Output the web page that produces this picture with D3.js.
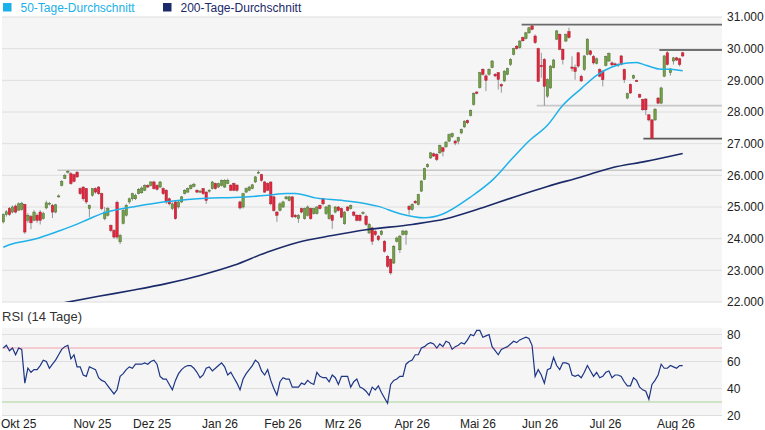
<!DOCTYPE html>
<html>
<head>
<meta charset="utf-8">
<script src="https://cdn.jsdelivr.net/npm/d3@7"></script>
<style>
  body { margin: 0; background: #fff; }
  text { font-family: "Liberation Sans", Arial, sans-serif; }
</style>
</head>
<body>
<div id="chart"></div>
<script>
// daily candles, Okt 25 - Aug 26
const opens = [
  24530,24760,24950,24840,25030,24900,24920,25080,24580,24700,
  24580,24740,24840,24630,24970,25100,25050,24840,25330,25680,
  25900,26120,26050,26020,26100,25580,25630,25580,24950,25370,
  25580,25630,25420,24630,24740,24420,24260,25150,23900,24480,
  24740,25160,25260,25260,25420,25450,25530,25680,25680,25790,
  25680,25630,25580,25530,25260,24950,25160,25000,25160,25420,
  25470,25580,25650,25530,25470,25580,25470,25500,25580,25740,
  25630,25680,25630,25740,25690,25740,25690,25160,25000,25470,
  25530,25580,25790,26080,26020,25790,25740,25790,25320,24840,
  24890,25000,25260,25210,25320,24740,24630,24950,24630,24740,
  24950,24790,24790,25050,25260,24790,24630,24740,24840,25000,
  24950,24470,25000,24950,24840,24740,24740,24810,24710,24180,
  24340,24230,24080,24130,23920,23440,23340,23230,23920,23650,
  24130,24130,25020,24920,25180,25080,25500,25870,26270,26550,
  26680,26660,26710,26870,26900,27080,27220,27080,27080,27340,
  27530,27730,27890,28240,28630,28770,29350,29140,29190,29400,
  29190,29240,28870,28980,29190,29500,29820,30080,30030,30350,
  30320,30500,30720,30400,30000,29470,29660,28500,28760,29400,
  30300,30450,29980,30240,30540,29420,29400,29870,29130,29340,
  29820,29930,29750,29540,29340,29290,29470,29610,29550,29520,
  29480,29770,29340,28440,28870,29070,28990,28550,28390,28410,
  27910,27750,27750,28440,28280,29130,29870,29240,29610,29710,
  29680,29870
];
const highs = [
  24800,24900,25000,25050,25080,25150,25160,25100,24800,24750,
  24900,24800,24900,24850,25200,25160,25100,25100,25400,25850,
  26050,26160,26100,26050,26130,25620,25650,25600,25080,25600,
  25620,25660,25450,25000,25000,24450,24300,25200,24150,24950,
  25100,25300,25450,25420,25600,25650,25720,25720,25820,25830,
  25720,25820,25620,25560,25300,25150,25200,25200,25350,25560,
  25620,25720,25760,25560,25540,25600,25500,25560,25820,25770,
  25770,25870,25880,25900,25720,25770,25720,25200,25450,25620,
  25670,25730,25980,26160,26050,25820,25780,25800,25350,24870,
  25150,25200,25350,25350,25340,24780,24780,24980,24980,25050,
  24980,24980,25030,25080,25290,25030,25080,24770,25030,25030,
  24980,24870,25030,25080,24870,24770,24770,24870,24760,24500,
  24380,24280,24120,24280,23950,23480,23380,23800,24060,24120,
  24280,24280,25060,25120,25220,25420,25850,26240,26380,26740,
  26720,26700,26970,26900,27080,27320,27350,27120,27220,27480,
  27740,27760,28080,28620,28660,29270,29380,29190,29380,29640,
  29230,29260,28900,29320,29400,29700,30030,30110,30270,30380,
  30530,30690,30770,30450,30030,29870,29700,29060,29480,29680,
  30590,30480,30010,30480,30660,29760,29500,29900,29180,29800,
  30330,29960,29800,29720,29380,29320,29780,29880,29600,29560,
  29540,29800,29370,28610,28900,29180,29020,28580,28420,28440,
  27940,27780,28120,28470,28800,29800,29960,29390,29740,29740,
  29710,29900
];
const lows = [
  24480,24700,24720,24800,24800,24880,24880,24150,24500,24300,
  24550,24500,24450,24600,24930,25050,24650,24800,25300,25650,
  25880,26050,25700,25780,25920,25380,25200,25100,24680,25330,
  25420,25380,24900,24580,24700,24200,24000,23980,23830,24450,
  24700,25100,25200,25220,25400,25420,25500,25600,25650,25550,
  25520,25600,25380,25100,25050,24900,24600,24950,25120,25400,
  25450,25550,25620,25440,25440,25380,25100,25450,25550,25550,
  25600,25650,25600,25720,25500,25500,25480,24920,24950,25450,
  25500,25560,25760,26050,25800,25450,25500,25050,24850,24530,
  24860,24970,25230,25180,24650,24650,24500,24800,24600,24700,
  24600,24760,24760,24920,25050,24750,24600,24310,24800,24860,
  24650,24440,24860,24920,24700,24550,24540,24760,24400,24150,
  23800,24080,23920,24100,23560,23080,22860,23200,23880,23550,
  24100,23810,24760,24880,25100,25050,25480,25850,26240,26520,
  26580,26450,26680,26600,26870,27050,27180,26950,26980,27300,
  27500,27620,27860,28200,28560,28740,29150,28660,29150,29380,
  29100,28710,28610,28950,29160,29450,29790,29970,30000,30220,
  30290,30470,30580,30150,28950,29080,28200,28450,28730,29380,
  30270,29950,29500,30210,30320,29280,29020,29400,28950,29300,
  29790,29780,29500,29500,29100,28810,29440,29580,29450,29460,
  29420,29470,28920,28400,28570,29040,28950,28440,28040,27900,
  27700,27150,27720,28250,28250,29100,29470,29150,29500,29610,
  29440,29740
];
const closes = [
  24760,24850,24760,25000,24840,25100,25120,24210,24740,24500,
  24840,24580,24580,24790,25130,25120,24840,25070,25350,25810,
  26000,26130,25740,25810,25950,25420,25260,25160,25050,25580,
  25470,25420,24950,24840,24950,24260,24050,24050,24100,24890,
  25050,25260,25420,25370,25560,25600,25680,25630,25790,25580,
  25560,25790,25420,25160,25100,25100,24630,25160,25320,25530,
  25580,25680,25720,25470,25500,25420,25210,25530,25790,25580,
  25740,25840,25840,25840,25530,25530,25530,24970,25420,25580,
  25630,25700,25950,26100,25840,25470,25530,25100,24890,24740,
  25100,25160,25320,25320,24690,24690,24740,24840,24950,25000,
  24630,24950,25000,24950,25100,25000,25050,24580,25000,24890,
  24680,24840,24890,25050,24740,24580,24580,24820,24450,24450,
  23920,24130,23970,24240,23600,23130,22920,23760,24020,24080,
  24240,24240,24920,25080,25130,25390,25820,26210,26340,26710,
  26610,26500,26940,26760,27050,27290,27320,27020,27190,27450,
  27710,27660,28050,28590,28590,29240,29190,29000,29350,29610,
  29140,29030,28820,29290,29370,29660,30000,30000,30240,30250,
  30500,30660,30610,30190,28970,29430,28810,29020,29450,29640,
  30560,29980,29660,30450,30350,29380,29280,29450,28980,29770,
  30300,29820,29550,29680,29130,29020,29750,29850,29490,29500,
  29510,29500,29020,28580,28600,29150,28980,28470,28070,28070,
  27750,27170,28090,28280,28760,29770,29500,29360,29710,29640,
  29500,29770
];

// RSI (14 Tage), one value per candle
const rsi = [
  70,72,68,70,65,70,69,44,55,52, 54,54,57,61,60,55,58,61,65,69,
  71,72,62,65,56,56,50,49,56,55, 54,48,46,45,42,39,36,39,49,51,
  54,56,55,58,58,58,59,58,60,61, 58,49,47,47,43,39,46,51,54,56,
  57,57,55,52,48,50,55,56,53,55, 57,59,56,50,52,48,44,39,47,51,
  54,57,61,59,53,50,54,46,40,35, 45,48,47,47,41,41,41,44,43,46,
  44,43,52,49,48,48,45,50,48,43, 49,49,49,41,45,47,41,40,38,35,
  41,39,42,37,33,29,43,46,47,49, 49,58,60,61,65,65,70,71,73,74,
  73,70,73,71,75,74,69,71,72,74, 73,76,80,79,83,83,78,79,80,71,
  68,65,69,70,71,73,75,74,76,77, 78,77,72,49,54,50,44,54,55,63,
  57,54,59,59,58,50,49,50,48,52, 57,53,49,52,48,49,52,53,48,50,
  50,49,45,42,42,48,46,41,39,38, 32,43,46,50,58,55,55,57,56,55,
  57,57
];

// moving averages read at candle indices
const ma50Idx = [0,2,10,18,23,28,32,37,42,52,60,66,75,86,92,95,102,110,118,122,129,137,143,152,159,166,171,177,182,188,193,198,203,206,209,214,217,221];
const ma50Val = [23730,23810,23980,24240,24420,24630,24790,24915,25000,25155,25240,25280,25300,25370,25430,25430,25280,25210,25105,25020,24790,24660,24780,25315,25840,26580,27085,27580,28210,28740,29160,29420,29550,29560,29475,29350,29350,29300];
const ma200Idx = [20,31,42,53,64,75,86,96,107,118,133,144,155,166,177,188,198,209,221];
const ma200Val = [21980,22180,22370,22580,22840,23160,23580,23890,24100,24280,24450,24630,24950,25310,25650,25950,26240,26440,26690];

// support / resistance lines: level and first candle index
const levels = [26160, 30760, 28200, 27160, 29960];
const levelFrom = [17.6, 168.6, 173.5, 208.2, 213.4];

const monthLabels = ["Okt 25","Nov 25","Dez 25","Jan 26","Feb 26","Mrz 26","Apr 26","Mai 26","Jun 26","Jul 26","Aug 26"];
const monthIdx = [5, 29, 48.4, 70.5, 91, 110.5, 133, 154.4, 174.6, 195.9, 218.8];

const priceTicks = [22000,23000,24000,25000,26000,27000,28000,29000,30000,31000];
const rsiTicks = [20, 40, 60, 80];

// layout
const width = 765, height = 430;
const left = 2, right = 722;
const mainTop = 17, mainBottom = 302;
const rsiTop = 327.75, rsiBottom = 415.5;

const deFmt = d3.formatLocale({decimal: ",", thousands: ".", grouping: [3], currency: ["", " €"]}).format(",.0f");

let svg = d3.select("#chart")
  .append("svg")
  .attr("width", width)
  .attr("height", height);

const x = d3.scaleLinear()
  .domain([0, closes.length - 1])
  .range([3.3, 682.7]);

const y = d3.scaleLinear()
  .domain([22000, 31000])
  .range([mainBottom, mainTop]);

const yR = d3.scaleLinear()
  .domain([20, 85])
  .range([rsiBottom, rsiTop]);

// backgrounds
svg.append("rect").attr("x", left).attr("y", mainTop)
  .attr("width", right - left).attr("height", mainBottom - mainTop)
  .attr("fill", "#f5f5f5");
svg.append("rect").attr("x", left).attr("y", rsiTop)
  .attr("width", right - left).attr("height", rsiBottom - rsiTop)
  .attr("fill", "#f5f5f5");

svg.append("defs").append("clipPath").attr("id", "clipMain")
  .append("rect").attr("x", left).attr("y", mainTop)
  .attr("width", right - left).attr("height", mainBottom - mainTop);

// grid lines
svg.append("g").selectAll("line")
  .data(priceTicks).enter().append("line")
  .attr("x1", left).attr("x2", right)
  .attr("y1", d => y(d)).attr("y2", d => y(d))
  .attr("stroke", "#dedede").attr("stroke-width", 1);

svg.append("g").selectAll("line")
  .data(rsiTicks).enter().append("line")
  .attr("x1", left).attr("x2", right)
  .attr("y1", d => yR(d)).attr("y2", d => yR(d))
  .attr("stroke", "#dedede").attr("stroke-width", 1);

// price axis (right)
const yAxis = svg.append("g")
  .attr("transform", `translate(${right}, 0)`)
  .call(d3.axisRight(y).tickValues(priceTicks).tickSize(0).tickPadding(5).tickFormat(deFmt));
yAxis.select(".domain").remove();
yAxis.selectAll("text").attr("font-size", 12).attr("fill", "#222")
  .attr("font-family", "Liberation Sans, Arial, sans-serif");

const rAxis = svg.append("g")
  .attr("transform", `translate(${right}, 0)`)
  .call(d3.axisRight(yR).tickValues(rsiTicks).tickSize(0).tickPadding(5));
rAxis.select(".domain").remove();
rAxis.selectAll("text").attr("font-size", 12).attr("fill", "#222")
  .attr("font-family", "Liberation Sans, Arial, sans-serif");

// support / resistance lines
const levelColor = ["#c8c8c8", "#6a6a6a", "#c8c8c8", "#5a5a5a", "#444444"];
svg.append("g").selectAll("line")
  .data(levels).enter().append("line")
  .attr("x1", (d, i) => x(levelFrom[i])).attr("x2", right)
  .attr("y1", d => y(d)).attr("y2", d => y(d))
  .attr("stroke", (d, i) => levelColor[i]).attr("stroke-width", 1.6);

// candles
const idx = d3.range(closes.length);
const candles = svg.append("g").attr("clip-path", "url(#clipMain)");
candles.selectAll(".wick")
  .data(idx).enter().append("line")
  .attr("class", "wick")
  .attr("x1", i => x(i)).attr("x2", i => x(i))
  .attr("y1", i => y(Math.max(highs[i], opens[i], closes[i])))
  .attr("y2", i => y(Math.min(lows[i], opens[i], closes[i])))
  .attr("stroke", "#8a8a8a").attr("stroke-width", 0.9);

candles.selectAll(".body")
  .data(idx).enter().append("rect")
  .attr("class", "body")
  .attr("x", i => x(i) - 1.2)
  .attr("width", 2.4)
  .attr("y", i => y(Math.max(opens[i], closes[i])))
  .attr("height", i => Math.max(1, Math.abs(y(opens[i]) - y(closes[i]))))
  .attr("fill", i => closes[i] >= opens[i] ? "#74a046" : "#e3263d")
  .attr("stroke", i => closes[i] >= opens[i] ? "#4f6e33" : "#a81c2c")
  .attr("stroke-width", 0.5);

// moving averages
const maLine = d3.line()
  .x(d => x(d[0]))
  .y(d => y(d[1]))
  .curve(d3.curveMonotoneX);

svg.append("path")
  .datum(ma200Idx.map((d, i) => [d, ma200Val[i]]))
  .attr("clip-path", "url(#clipMain)")
  .attr("d", maLine)
  .attr("fill", "none").attr("stroke", "#1b2a68").attr("stroke-width", 1.6);

svg.append("path")
  .datum(ma50Idx.map((d, i) => [d, ma50Val[i]]))
  .attr("clip-path", "url(#clipMain)")
  .attr("d", maLine)
  .attr("fill", "none").attr("stroke", "#1fb1e9").attr("stroke-width", 1.5);

// RSI panel
svg.append("line")
  .attr("x1", left).attr("x2", right)
  .attr("y1", yR(70)).attr("y2", yR(70))
  .attr("stroke", "#f2a2ab").attr("stroke-width", 1.2);
svg.append("line")
  .attr("x1", left).attr("x2", right)
  .attr("y1", yR(30)).attr("y2", yR(30))
  .attr("stroke", "#c2dcb4").attr("stroke-width", 1.6);

svg.append("path")
  .datum(rsi)
  .attr("d", d3.line().x((d, i) => x(i)).y(d => yR(d)))
  .attr("fill", "none").attr("stroke", "#1c3585").attr("stroke-width", 1.2);

svg.append("text")
  .attr("x", 2).attr("y", 321)
  .attr("font-size", 13).attr("fill", "#333")
  .text("RSI (14 Tage)");

// month labels
svg.append("g").selectAll("text")
  .data(monthLabels).enter().append("text")
  .attr("x", (d, i) => x(monthIdx[i]))
  .attr("y", 428)
  .attr("text-anchor", "middle")
  .attr("font-size", 12).attr("fill", "#222")
  .text(d => d);

// legend
const legend = [
  {label: "50-Tage-Durchschnitt", color: "#1ab0e8", lx: 3},
  {label: "200-Tage-Durchschnitt", color: "#1b2a68", lx: 163}
];
const lg = svg.append("g").selectAll("g")
  .data(legend).enter().append("g");
lg.append("rect")
  .attr("x", d => d.lx).attr("y", 3)
  .attr("width", 8.5).attr("height", 8.5)
  .attr("fill", d => d.color);
lg.append("text")
  .attr("x", d => d.lx + 17.5).attr("y", 11.5)
  .attr("font-size", 12).attr("fill", d => d.color)
  .text(d => d.label);
</script>
</body>
</html>
